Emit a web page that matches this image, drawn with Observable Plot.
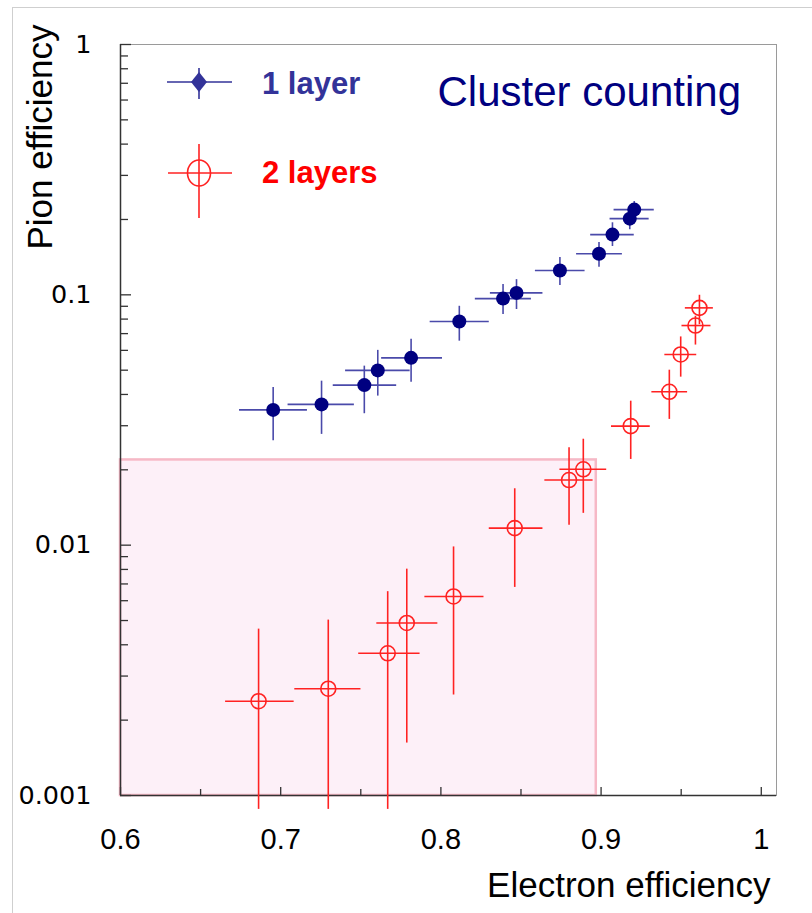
<!DOCTYPE html>
<html>
<head>
<meta charset="utf-8">
<script src="https://cdn.jsdelivr.net/npm/d3@7"></script>
<script src="https://cdn.jsdelivr.net/npm/@observablehq/plot@0.6"></script>
<style>
  html, body { margin: 0; padding: 0; background: #fff; }
  #wrap { position: relative; width: 812px; height: 913px; overflow: hidden; }
  #border { position: absolute; left: 12px; top: 7px; right: 0; bottom: 0; border-left: 1px solid #cfcfcf; border-top: 1px solid #cfcfcf; pointer-events: none; }
  #legend { position: absolute; left: 0; top: 0; pointer-events: none; }
</style>
</head>
<body>
<div id="wrap"><div id="border"></div></div>
<script>
// ---- data ----
const oneLayerX   = [0.6953, 0.7255, 0.7522, 0.7606, 0.7814, 0.8115, 0.8388, 0.8472, 0.8743, 0.8987, 0.9071, 0.9179, 0.9207];
const oneLayerY   = [0.0347, 0.0365, 0.0436, 0.0499, 0.0560, 0.0782, 0.0966, 0.1018, 0.1250, 0.1460, 0.1740, 0.2015, 0.2190];
const oneLayerXLo = [0.6743, 0.7046, 0.7328, 0.7405, 0.7630, 0.7933, 0.8215, 0.8309, 0.8590, 0.8847, 0.8935, 0.9056, 0.9081];
const oneLayerXHi = [0.7167, 0.7460, 0.7724, 0.7808, 0.8010, 0.8302, 0.8565, 0.8637, 0.8900, 0.9133, 0.9207, 0.9300, 0.9332];
const oneLayerYLo = [0.0261, 0.0277, 0.0335, 0.0394, 0.0448, 0.0653, 0.0834, 0.0874, 0.1090, 0.1290, 0.1560, 0.1820, 0.2030];
const oneLayerYHi = [0.0426, 0.0452, 0.0519, 0.0600, 0.0664, 0.0900, 0.1099, 0.1150, 0.1410, 0.1620, 0.1940, 0.2220, 0.2360];

const twoLayerX   = [0.6862, 0.7297, 0.7668, 0.7787, 0.8079, 0.8461, 0.8800, 0.8889, 0.9185, 0.9426, 0.9497, 0.9589, 0.9614];
const twoLayerY   = [0.00238, 0.00267, 0.00370, 0.00489, 0.00624, 0.0117, 0.0182, 0.0201, 0.0299, 0.0410, 0.0578, 0.0754, 0.0887];
const twoLayerXLo = [0.6656, 0.7088, 0.7487, 0.7600, 0.7900, 0.8302, 0.8649, 0.8743, 0.9065, 0.9317, 0.9398, 0.9505, 0.9526];
const twoLayerXHi = [0.7084, 0.7501, 0.7870, 0.7981, 0.8269, 0.8637, 0.8950, 0.9035, 0.9307, 0.9540, 0.9597, 0.9686, 0.9701];
const twoLayerYLo = [0.00088, 0.00088, 0.00088, 0.00162, 0.00252, 0.00678, 0.0120, 0.0134, 0.0220, 0.0318, 0.0469, 0.0630, 0.0760];
const twoLayerYHi = [0.00462, 0.00502, 0.00652, 0.00802, 0.00984, 0.0168, 0.0245, 0.0265, 0.0376, 0.0500, 0.0679, 0.0821, 0.0996];

// shaded region (electron eff. < 0.897, pion eff. < 0.0219)
const regionX = [0.6, 0.897];
const regionY = [0.001, 0.0219];

const xDomain = [0.6, 1.0095];
const yDomain = [0.001, 1];
const xMajorTicks = [0.6, 0.7, 0.8, 0.9, 1.0];
const xMinorTicks = [0.65, 0.75, 0.85, 0.95];
const xTickLabels = ["0.6", "0.7", "0.8", "0.9", "1"];
const yMajorTicks = [0.001, 0.01, 0.1, 1];
const yMinorTicks = [0.002,0.003,0.004,0.005,0.006,0.007,0.008,0.009,
                     0.02,0.03,0.04,0.05,0.06,0.07,0.08,0.09,
                     0.2,0.3,0.4,0.5,0.6,0.7,0.8,0.9];
const yTickLabels = ["0.001", "0.01", "0.1", "1"];
const seriesNames = ["1 layer", "2 layers"];
const titleText = "Cluster counting";
const xTitle = "Electron efficiency";
const yTitle = "Pion efficiency";

// ---- build tables ----
const one = oneLayerX.map((x, i) => ({x, y: oneLayerY[i], xlo: oneLayerXLo[i], xhi: oneLayerXHi[i], ylo: oneLayerYLo[i], yhi: oneLayerYHi[i]}));
const two = twoLayerX.map((x, i) => ({x, y: twoLayerY[i], xlo: twoLayerXLo[i], xhi: twoLayerXHi[i], ylo: twoLayerYLo[i], yhi: twoLayerYHi[i]}));
const region = [{x1: regionX[0], x2: regionX[1], y1: regionY[0], y2: regionY[1]}];
const xLab = new Map(xMajorTicks.map((t, i) => [t, xTickLabels[i]]));
const yLab = new Map(yMajorTicks.map((t, i) => [t, yTickLabels[i]]));

const BLUE_BAR = "#4a4aaa", BLUE_DOT = "#000080", RED = "#ff2222", AXIS = "#333";

const chart = Plot.plot({
  width: 812, height: 913,
  marginTop: 44, marginBottom: 118, marginLeft: 120, marginRight: 36,
  x: {domain: xDomain, label: null},
  y: {type: "log", domain: yDomain, label: null},
  style: {fontFamily: "'Liberation Sans', Arial, sans-serif", background: "transparent", overflow: "visible"},
  marks: [
    Plot.rect(region, {x1: "x1", x2: "x2", y1: "y1", y2: "y2", fill: "#fdf0f8", stroke: "#f6b8c6", strokeWidth: 2.5}),
    Plot.frame({stroke: "#9a9a9a", strokeWidth: 1}),
    Plot.ruleY([yDomain[0]], {stroke: AXIS, strokeWidth: 1.5}),
    Plot.ruleX([xDomain[0]], {stroke: AXIS, strokeWidth: 1.5}),
    // x ticks (inside)
    Plot.axisX({anchor: "bottom", ticks: xMajorTicks, tickSize: 8, dy: -8, fill: "none", stroke: AXIS, strokeWidth: 1.3, label: null}),
    Plot.axisX({anchor: "bottom", ticks: xMinorTicks, tickSize: 6, dy: -6, fill: "none", stroke: AXIS, strokeWidth: 1.3, label: null}),
    Plot.axisX({anchor: "bottom", ticks: xMajorTicks, tickSize: 0, tickPadding: 33, tickFormat: d => xLab.get(d), fontSize: 29, fill: "#000", label: null}),
    // y ticks (inside)
    Plot.axisY({anchor: "left", ticks: yMajorTicks, tickSize: 11, dx: 11, fill: "none", stroke: AXIS, strokeWidth: 1.3, label: null}),
    Plot.axisY({anchor: "left", ticks: yMinorTicks, tickSize: 8, dx: 8, fill: "none", stroke: AXIS, strokeWidth: 1.3, label: null}),
    Plot.axisY({anchor: "left", ticks: yMajorTicks, tickSize: 0, tickPadding: 29, tickFormat: d => yLab.get(d), fontSize: 25.5, fontFamily: "'DejaVu Sans', Verdana, sans-serif", fill: "#000", label: null}),
    // axis titles
    Plot.text([xTitle], {frameAnchor: "bottom-right", textAnchor: "end", lineAnchor: "middle", dx: -6, dy: 90, fontSize: 35, fill: "#000"}),
    Plot.text([yTitle], {frameAnchor: "top-left", rotate: -90, textAnchor: "end", lineAnchor: "middle", dx: -80, dy: -20, fontSize: 35, fill: "#000"}),
    Plot.text([titleText], {frameAnchor: "top-left", textAnchor: "start", lineAnchor: "middle", dx: 317, dy: 48, fontSize: 42, fill: "#000080"}),
    // 2 layers
    Plot.ruleY(two, {y: "y", x1: "xlo", x2: "xhi", stroke: RED, strokeWidth: 1.6}),
    Plot.ruleX(two, {x: "x", y1: "ylo", y2: "yhi", stroke: RED, strokeWidth: 1.6}),
    Plot.dot(two, {x: "x", y: "y", r: 7.5, stroke: RED, strokeWidth: 1.6, fill: "none"}),
    // 1 layer
    Plot.ruleY(one, {y: "y", x1: "xlo", x2: "xhi", stroke: BLUE_BAR, strokeWidth: 1.6}),
    Plot.ruleX(one, {x: "x", y1: "ylo", y2: "yhi", stroke: BLUE_BAR, strokeWidth: 1.6}),
    Plot.dot(one, {x: "x", y: "y", r: 7, fill: BLUE_DOT, stroke: "none"})
  ]
});
const wrap = document.getElementById("wrap");
wrap.insertBefore(chart, wrap.firstChild);

// legend overlay
const ns = "http://www.w3.org/2000/svg";
const lg = document.createElementNS(ns, "svg");
lg.setAttribute("id", "legend");
lg.setAttribute("width", 812); lg.setAttribute("height", 913);
lg.innerHTML = `
  <g>
    <line x1="167" x2="232" y1="82" y2="82" stroke="#333399" stroke-width="1.6"/>
    <line x1="199" x2="199" y1="68" y2="99" stroke="#333399" stroke-width="1.6"/>
    <path d="M199,72 L207,82 L199,92 L191,82 Z" fill="#333399"/>
    <text x="262" y="83" dy="0.35em" font-family="'Liberation Sans', Arial, sans-serif" font-weight="bold" font-size="31" fill="#333399">${seriesNames[0]}</text>
    <line x1="168" x2="232" y1="173" y2="173" stroke="${RED}" stroke-width="1.6"/>
    <line x1="199" x2="199" y1="144" y2="218" stroke="${RED}" stroke-width="1.6"/>
    <ellipse cx="199" cy="173" rx="11.5" ry="13" fill="none" stroke="${RED}" stroke-width="1.6"/>
    <text x="262" y="172" dy="0.35em" font-family="'Liberation Sans', Arial, sans-serif" font-weight="bold" font-size="31" fill="#ff0000">${seriesNames[1]}</text>
  </g>`;
wrap.appendChild(lg);
</script>
</body>
</html>
